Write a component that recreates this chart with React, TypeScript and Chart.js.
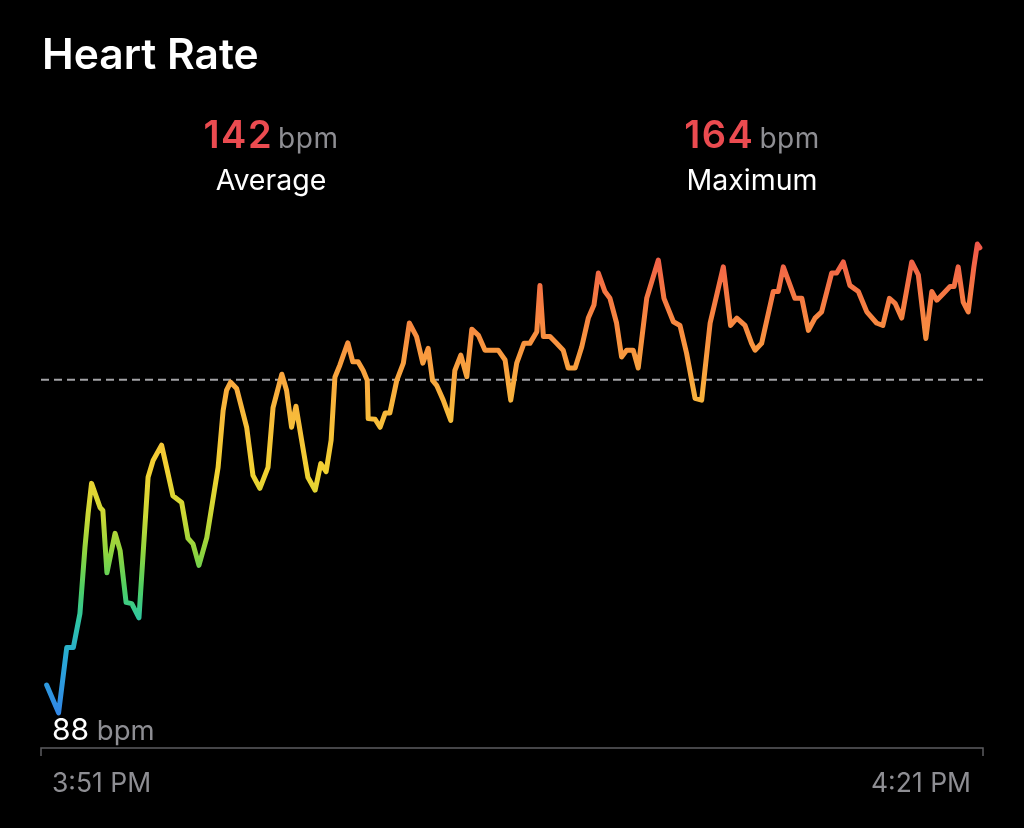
import React, { useEffect, useRef } from "react";
import { Chart, registerables } from "chart.js";

Chart.register(...registerables);

// minutes elapsed since 3:51 PM
const minutes = [
  0.18, 0.56, 0.82, 1.03, 1.24, 1.4, 1.5, 1.61, 1.88, 1.97,
  2.1, 2.36, 2.52, 2.71, 2.89, 3.12, 3.41, 3.57, 3.84, 4.0,
  4.2, 4.48, 4.68, 4.84, 5.03, 5.28, 5.64, 5.8, 5.91, 6.04,
  6.23, 6.55, 6.75, 6.97, 7.23, 7.39, 7.67, 7.82, 7.98, 8.12,
  8.3, 8.5, 8.73, 8.91, 9.08, 9.24, 9.36, 9.52, 9.77, 9.93,
  10.1, 10.26, 10.39, 10.42, 10.64, 10.8, 10.96, 11.11, 11.33, 11.54,
  11.73, 11.96, 12.16, 12.33, 12.47, 12.6, 12.81, 13.05, 13.18, 13.37,
  13.56, 13.72, 13.93, 14.14, 14.56, 14.78, 14.96, 15.15, 15.38, 15.57,
  15.79, 15.89, 16.0, 16.21, 16.42, 16.63, 16.79, 17.01, 17.22, 17.43,
  17.61, 17.75, 17.96, 18.12, 18.33, 18.49, 18.65, 18.86, 19.02, 19.29,
  19.66, 19.84, 20.14, 20.35, 20.56, 20.83, 21.04, 21.31, 21.73, 21.96,
  22.16, 22.42, 22.63, 22.74, 22.95, 23.32, 23.48, 23.64, 24.01, 24.23,
  24.44, 24.65, 24.86, 25.18, 25.34, 25.55, 25.76, 26.03, 26.3, 26.61,
  26.81, 27.02, 27.2, 27.41, 27.73, 27.94, 28.18, 28.37, 28.53, 28.74,
  28.95, 29.08, 29.21, 29.37, 29.53, 29.71, 29.82, 29.9,
];

const heartRate = [
  92.5, 88.0, 98.6, 98.6, 104.1, 114.8, 120.3, 125.2, 121.3, 120.8,
  110.7, 117.1, 114.3, 105.9, 105.7, 103.4, 126.2, 128.9, 131.4, 127.8,
  123.2, 122.1, 116.3, 115.4, 111.9, 116.4, 127.8, 137.0, 140.3, 141.6,
  140.6, 134.3, 126.5, 124.4, 127.8, 137.5, 142.9, 140.3, 134.3, 137.7,
  132.2, 126.2, 124.1, 128.4, 127.1, 132.2, 142.4, 144.4, 148.0, 144.9,
  144.9, 143.5, 141.9, 135.7, 135.6, 134.3, 136.6, 136.6, 141.9, 144.7,
  151.2, 149.0, 144.7, 147.1, 141.9, 141.1, 138.7, 135.4, 143.5, 146.0,
  142.5, 150.2, 149.2, 146.8, 146.8, 145.2, 138.7, 144.7, 147.9, 147.9,
  149.8, 157.3, 149.0, 149.0, 147.9, 146.8, 143.9, 143.9, 147.3, 152.0,
  154.1, 159.3, 156.3, 155.2, 151.2, 145.7, 146.8, 146.8, 143.9, 155.2,
  161.4, 155.2, 151.4, 150.8, 146.3, 139.0, 138.7, 151.2, 160.3, 150.8,
  152.0, 150.8, 147.9, 146.8, 147.9, 156.3, 156.3, 160.3, 155.2, 155.2,
  150.0, 152.0, 153.0, 159.3, 159.3, 161.1, 157.3, 156.3, 153.0, 151.2,
  150.8, 155.2, 154.4, 152.0, 161.1, 159.0, 148.7, 156.3, 154.9, 156.0,
  157.1, 157.1, 160.3, 154.6, 153.0, 160.3, 164.0, 163.4,
];

const AVERAGE_BPM = 142;
const MAXIMUM_BPM = 164;
const MINIMUM_BPM = 88;
const timeLabels = ["3:51 PM", "4:21 PM"];
const TIME_START = 0;
const TIME_END = 30;
const Y_MIN = 82.3;
const Y_MAX = 167.9;

const gradientValues = [88, 97, 103, 108, 114, 120, 127, 135, 142, 150, 157, 164];
const gradientColors = [
  "#3288e6", "#29a9d6", "#2fc6a4", "#4ccf66", "#8fd43e", "#cbd835",
  "#f2d232", "#f7be3a", "#f9a83e", "#f88c40", "#f57444", "#f0584a",
];

const FONT = "Inter, 'Noto Sans', sans-serif";
const GRAY = "#8e8e93";
const RED = "#eb4b50";

const axisPlugin = {
  id: "hrAxis",
  beforeDatasetsDraw(chart: any) {
    const { ctx, chartArea, scales } = chart;
    const x0 = scales.x.getPixelForValue(TIME_START);
    const x1 = scales.x.getPixelForValue(TIME_END);
    const yb = chartArea.bottom;
    ctx.save();
    ctx.strokeStyle = "#5c5c60";
    ctx.lineWidth = 1.5;
    ctx.beginPath();
    ctx.moveTo(x0, yb + 8);
    ctx.lineTo(x0, yb);
    ctx.lineTo(x1, yb);
    ctx.lineTo(x1, yb + 8);
    ctx.stroke();
    ctx.restore();
  },
};

export default function App() {
  const canvasRef = useRef<HTMLCanvasElement | null>(null);

  useEffect(() => {
    const canvas = canvasRef.current;
    if (!canvas) return;
    const lineData = minutes.map((m, i) => ({ x: m, y: heartRate[i] }));
    const avgData = [
      { x: TIME_START, y: AVERAGE_BPM },
      { x: TIME_END, y: AVERAGE_BPM },
    ];
    const chart = new Chart(canvas, {
      type: "line",
      data: {
        datasets: [
          {
            data: lineData,
            order: 1,
            borderWidth: 5,
            borderJoinStyle: "round",
            borderCapStyle: "round",
            pointRadius: 0,
            tension: 0,
            borderColor: (c: any) => {
              const { chart: ch } = c;
              if (!ch.chartArea) return "#f9a83e";
              const ys = ch.scales.y;
              const lo = gradientValues[0];
              const hi = gradientValues[gradientValues.length - 1];
              const g = ch.ctx.createLinearGradient(
                0,
                ys.getPixelForValue(lo),
                0,
                ys.getPixelForValue(hi)
              );
              gradientValues.forEach((v, i) =>
                g.addColorStop((v - lo) / (hi - lo), gradientColors[i])
              );
              return g;
            },
          },
          {
            data: avgData,
            order: 2,
            borderWidth: 2,
            borderColor: "#a3a3a6",
            borderDash: [8, 5],
            pointRadius: 0,
          },
        ],
      } as any,
      options: {
        animation: false,
        responsive: false,
        maintainAspectRatio: false,
        layout: {
          autoPadding: false,
          padding: { left: 41, right: 41, top: 220, bottom: 80 },
        },
        plugins: {
          legend: { display: false },
          tooltip: { enabled: false },
          title: { display: false },
        },
        scales: {
          x: { type: "linear", min: TIME_START, max: TIME_END, display: false },
          y: { type: "linear", min: Y_MIN, max: Y_MAX, display: false },
        },
      } as any,
      plugins: [axisPlugin],
    });
    return () => chart.destroy();
  }, []);

  const statCol = (center: number) => ({
    position: "absolute" as const,
    left: center - 150,
    width: 300,
    textAlign: "center" as const,
    whiteSpace: "nowrap" as const,
  });

  const numStyle = { color: RED, fontWeight: 600, letterSpacing: 1.5 };
  const unitStyle = { color: GRAY, fontSize: 28, marginLeft: 5, letterSpacing: 0.5 };

  return (
    <div
      style={{
        position: "fixed",
        left: 0,
        top: 0,
        width: 1024,
        height: 828,
        background: "#000",
        fontFamily: FONT,
        overflow: "hidden",
      }}
    >
      <canvas
        ref={canvasRef}
        width={1024}
        height={828}
        style={{ position: "absolute", left: 0, top: 0, width: 1024, height: 828 }}
      />
      <div
        style={{
          position: "absolute",
          left: 42,
          top: 32.5,
          fontSize: 42.5,
          lineHeight: 1,
          fontWeight: 600,
          color: "#fff",
          whiteSpace: "nowrap",
        }}
      >
        Heart Rate
      </div>

      <div style={{ ...statCol(271), top: 114.5, fontSize: 38, lineHeight: 1 }}>
        <span style={numStyle}>{AVERAGE_BPM}</span>
        <span style={unitStyle}>bpm</span>
      </div>
      <div style={{ ...statCol(271), top: 166, fontSize: 28.5, lineHeight: 1, color: "#fff" }}>
        Average
      </div>

      <div style={{ ...statCol(752), top: 114.5, fontSize: 38, lineHeight: 1 }}>
        <span style={numStyle}>{MAXIMUM_BPM}</span>
        <span style={unitStyle}>bpm</span>
      </div>
      <div style={{ ...statCol(752), top: 166, fontSize: 28.5, lineHeight: 1, color: "#fff" }}>
        Maximum
      </div>

      <div
        style={{
          position: "absolute",
          left: 52,
          top: 714,
          fontSize: 30,
          lineHeight: 1,
          whiteSpace: "nowrap",
        }}
      >
        <span style={{ color: "#fff" }}>{MINIMUM_BPM}</span>
        <span style={{ color: GRAY, fontSize: 27.5 }}> bpm</span>
      </div>

      <div
        style={{
          position: "absolute",
          left: 52,
          top: 769,
          fontSize: 26.5,
          lineHeight: 1,
          color: GRAY,
          whiteSpace: "nowrap",
        }}
      >
        {timeLabels[0]}
      </div>
      <div
        style={{
          position: "absolute",
          right: 53,
          top: 769,
          fontSize: 26.5,
          lineHeight: 1,
          color: GRAY,
          whiteSpace: "nowrap",
        }}
      >
        {timeLabels[1]}
      </div>
    </div>
  );
}
